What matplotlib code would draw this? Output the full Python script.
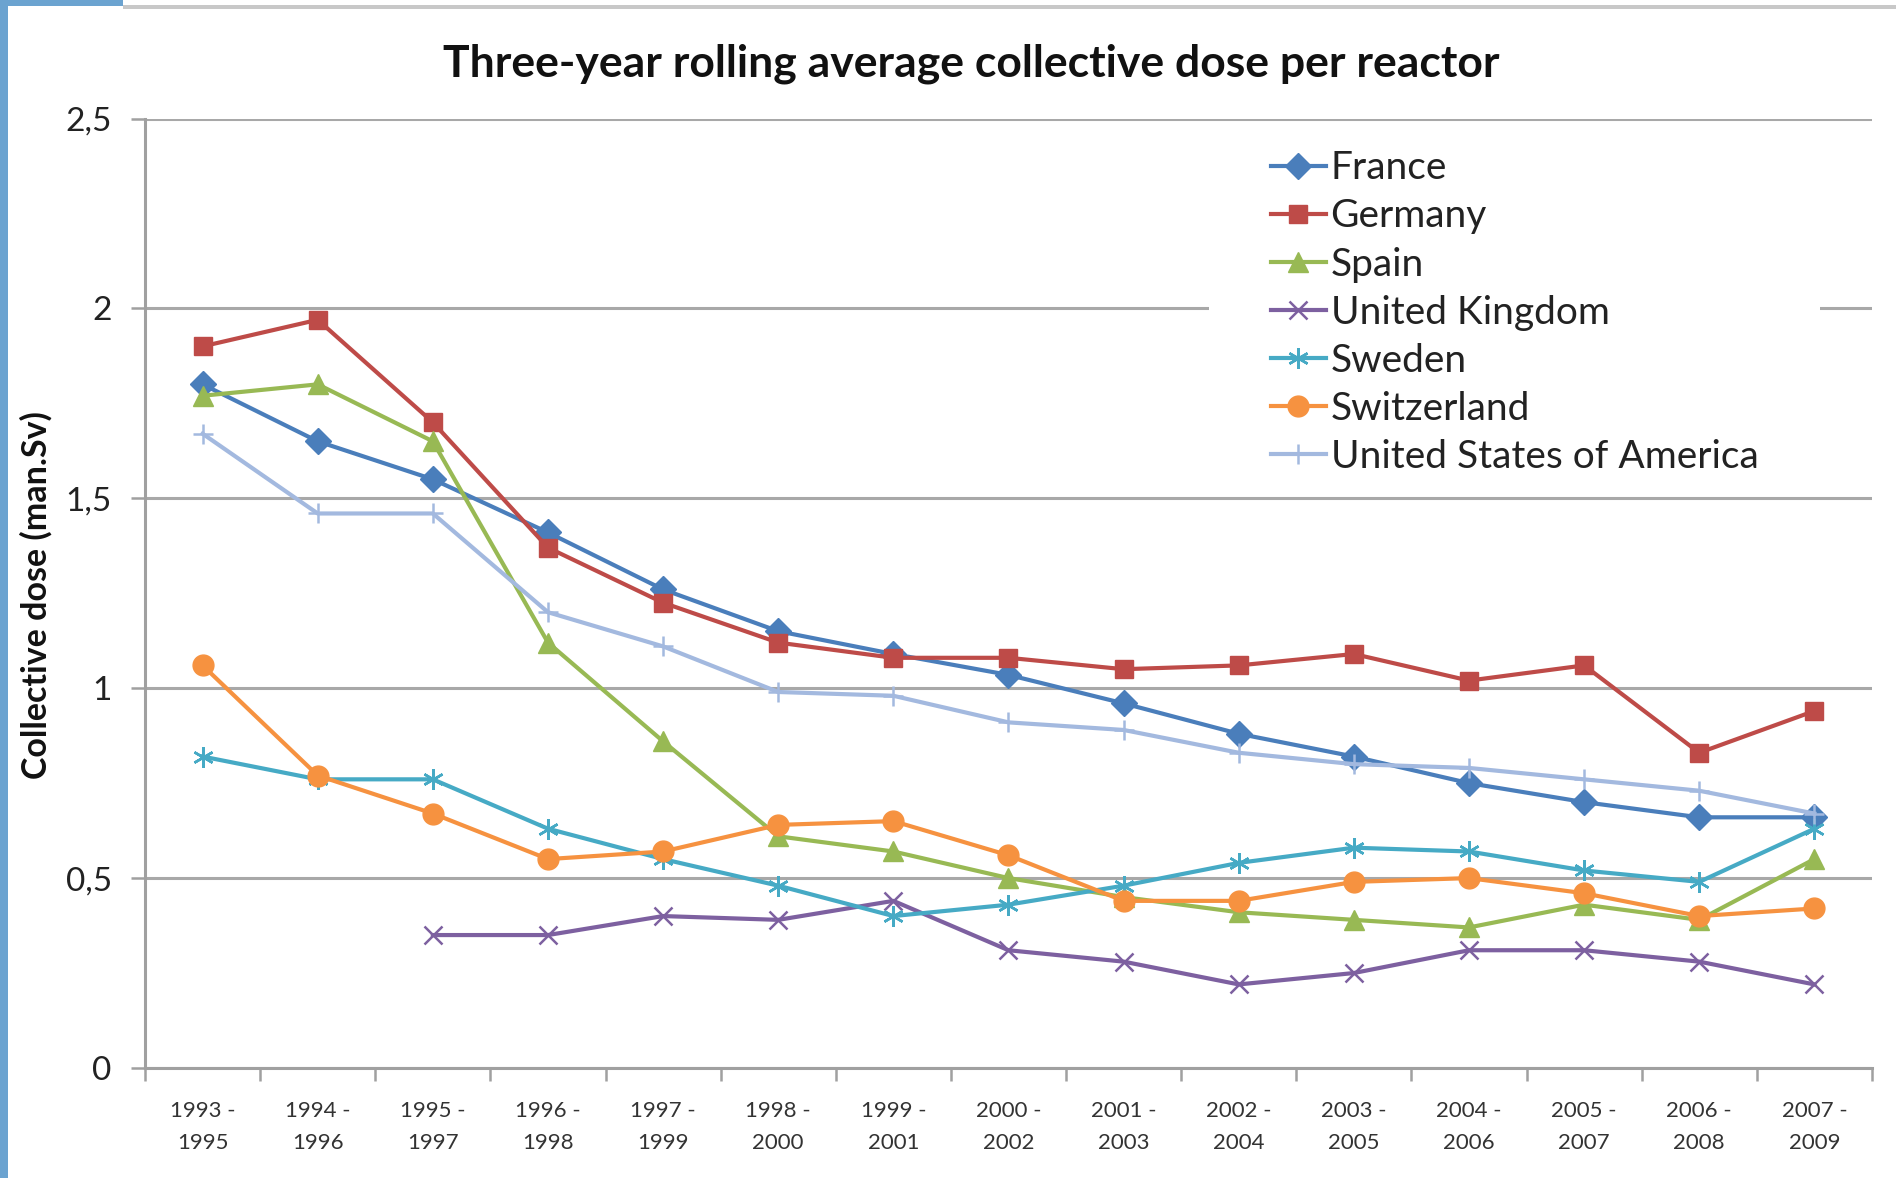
import numpy as np
import matplotlib
matplotlib.use("Agg")
import matplotlib.pyplot as plt
from matplotlib.patches import Rectangle

plt.rcParams["font.family"] = ["Lato", "DejaVu Sans"]

# rolling 3-year windows
periods = [
    "1993 -\n1995", "1994 -\n1996", "1995 -\n1997", "1996 -\n1998",
    "1997 -\n1999", "1998 -\n2000", "1999 -\n2001", "2000 -\n2002",
    "2001 -\n2003", "2002 -\n2004", "2003 -\n2005", "2004 -\n2006",
    "2005 -\n2007", "2006 -\n2008", "2007 -\n2009",
]

france = [1.80, 1.65, 1.55, 1.41, 1.26, 1.15, 1.09, 1.035, 0.96, 0.88, 0.82, 0.75, 0.70, 0.66, 0.66]
germany = [1.90, 1.97, 1.70, 1.37, 1.225, 1.12, 1.08, 1.08, 1.05, 1.06, 1.09, 1.02, 1.06, 0.83, 0.94]
spain = [1.77, 1.80, 1.65, 1.12, 0.86, 0.61, 0.57, 0.50, 0.45, 0.41, 0.39, 0.37, 0.43, 0.39, 0.55]
uk = [np.nan, np.nan, 0.35, 0.35, 0.40, 0.39, 0.44, 0.31, 0.28, 0.22, 0.25, 0.31, 0.31, 0.28, 0.22]
sweden = [0.82, 0.76, 0.76, 0.63, 0.55, 0.48, 0.40, 0.43, 0.48, 0.54, 0.58, 0.57, 0.52, 0.49, 0.63]
switzerland = [1.06, 0.77, 0.67, 0.55, 0.57, 0.64, 0.65, 0.56, 0.44, 0.44, 0.49, 0.50, 0.46, 0.40, 0.42]
usa = [1.67, 1.46, 1.46, 1.20, 1.11, 0.99, 0.98, 0.91, 0.89, 0.83, 0.80, 0.79, 0.76, 0.73, 0.67]

series = [
    ("France", france, "#4A7EBB", "D", 13),
    ("Germany", germany, "#BE4B48", "s", 13.5),
    ("Spain", spain, "#98B954", "^", 15),
    ("United Kingdom", uk, "#7D60A0", "x", 13),
    ("Sweden", sweden, "#46AAC5", (6, 2, 0), 15),
    ("Switzerland", switzerland, "#F69240", "o", 15),
    ("United States of America", usa, "#A3B9DF", "+", 15),
]

fig = plt.figure(figsize=(18.96, 11.78), dpi=100)
ax = fig.add_axes([0.0765, 0.0934, 0.9108, 0.806])

x = np.arange(len(periods))
for name, vals, col, mk, ms in series:
    thin = mk in ("x", "+") or isinstance(mk, tuple)
    ax.plot(x, vals, color=col, lw=3.0, marker=mk, markersize=ms,
            markerfacecolor=col, markeredgecolor=col,
            markeredgewidth=1.8 if thin else 1.0, label=name, zorder=3)

ax.set_xlim(-0.5, len(periods) - 0.5)
ax.set_ylim(0, 2.5)
ax.set_yticks([0, 0.5, 1, 1.5, 2, 2.5])
ax.set_yticklabels(["0", "0,5", "1", "1,5", "2", "2,5"], fontsize=24, color="#222222")
ax.set_xticks(x)
ax.set_xticklabels(periods, fontsize=16, color="#333333", linespacing=1.75)
ax.set_xticks(np.arange(len(periods) + 1) - 0.5, minor=True)
ax.tick_params(axis="x", which="major", length=0, pad=24)
ax.tick_params(axis="x", which="minor", length=9, width=1.8, color="#A0A0A0")
ax.tick_params(axis="y", length=10, width=1.8, color="#A0A0A0", pad=14)

ax.grid(axis="y", color="#A8A8A8", lw=2.2)
ax.set_axisbelow(True)
for s in ("top", "right"):
    ax.spines[s].set_visible(False)
for s in ("left", "bottom"):
    ax.spines[s].set_color("#A0A0A0")
    ax.spines[s].set_linewidth(2.2)

fig.text(36 / 1896, 1 - 595 / 1178, "Collective dose (man.Sv)", rotation=90,
         ha="center", va="center", fontsize=24.5, fontweight="bold", color="#111111")
fig.text(0.512, 0.946, "Three-year rolling average collective dose per reactor",
         ha="center", va="center", fontsize=32, fontweight="bold", color="#111111")

# white box behind legend (hides part of the 2.0 gridline, as in the original)
ax.add_patch(Rectangle((1209 / 1896, 1 - 484 / 1178), (1820 - 1209) / 1896, (484 - 127) / 1178,
                       transform=fig.transFigure, facecolor="white", edgecolor="none", zorder=1.5))
leg = ax.legend(loc="upper left", bbox_to_anchor=(1252 / 1896, 1 - 131 / 1178),
                bbox_transform=fig.transFigure, frameon=False, fontsize=28,
                handlelength=1.39, handletextpad=0.13, labelspacing=0.31, borderpad=0)
for t in leg.get_texts():
    t.set_color("#222222")

# screenshot frame
fig.patches.append(Rectangle((0, 0), 8 / 1896, 1, transform=fig.transFigure,
                             facecolor="#6BA3D0", edgecolor="none"))
fig.patches.append(Rectangle((0, 1 - 6 / 1178), 123 / 1896, 6 / 1178, transform=fig.transFigure,
                             facecolor="#6BA3D0", edgecolor="none"))
fig.patches.append(Rectangle((123 / 1896, 1 - 9 / 1178), 1 - 123 / 1896, 4 / 1178,
                             transform=fig.transFigure, facecolor="#C8C8C8", edgecolor="none"))

fig.savefig("out.png", dpi=100)
